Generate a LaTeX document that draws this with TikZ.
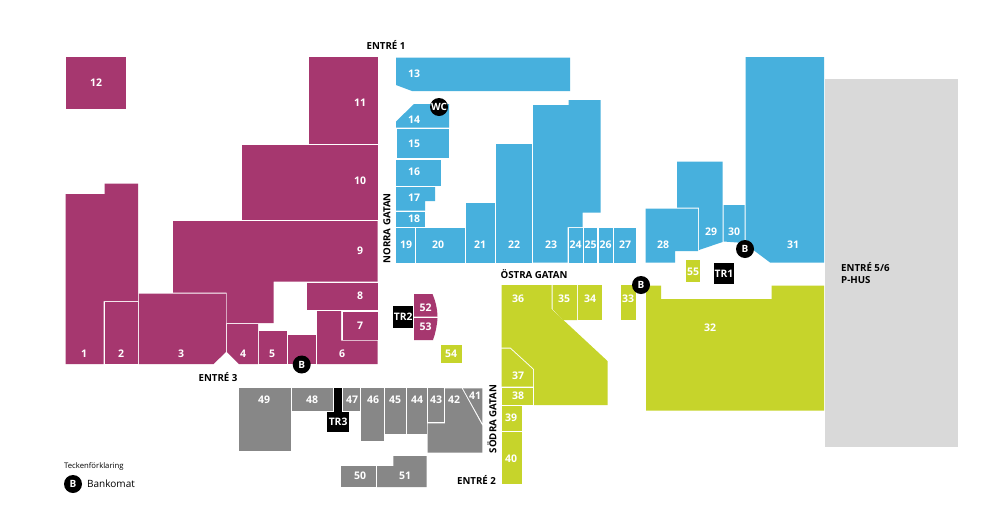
\documentclass[tikz,border=0pt]{standalone}
\usepackage{fontspec}
\setmainfont{Open Sans}
\definecolor{cpur}{HTML}{A6376F}
\definecolor{cblu}{HTML}{47B0DD}
\definecolor{clim}{HTML}{C6D42B}
\definecolor{cgry}{HTML}{878787}
\definecolor{clgt}{HTML}{D9D9D9}
\tikzset{
  pur/.style={fill=cpur},
  blu/.style={fill=cblu},
  lim/.style={fill=clim},
  gry/.style={fill=cgry},
  num/.style={text=white,font=\fontsize{10.5}{10.5}\selectfont\bfseries,inner sep=0pt},
  head/.style={text=black,font=\fontsize{9.7}{12.5}\selectfont\bfseries,inner sep=0pt},
  badge/.style={circle,fill=black,text=white,minimum size=18pt,inner sep=0pt,font=\fontsize{10}{10}\selectfont\bfseries},
  tr/.style={fill=black,text=white,inner sep=0pt,font=\fontsize{10.3}{10}\selectfont\bfseries,anchor=center},
}
\begin{document}
\begin{tikzpicture}[x=1pt,y=-1pt]
\useasboundingbox (0,0) rectangle (988,528);
\fill[white] (0,0) rectangle (988,528);
% P-hus
\fill[clgt] (825,79) rectangle (958,447);
% purple
\fill[pur] (66,57) rectangle (126,109);
\fill[pur] (309,57) rectangle (377.7,143.5);
\fill[pur] (242,145) rectangle (377.7,220);
\fill[pur] (173,221) -- (377.7,221) -- (377.7,281.5) -- (273.5,281.5) -- (273.5,323) -- (226.5,323) -- (226.5,292.5) -- (173,292.5) -- cycle;
\fill[pur] (65.5,194) -- (104.5,194) -- (104.5,183.5) -- (138,183.5) -- (138,301) -- (103.5,301) -- (103.5,364) -- (65.5,364) -- cycle;
\fill[pur] (104.5,302) rectangle (138,364);
\fill[pur] (138.8,293.5) -- (226,293.5) -- (226,352) -- (213.5,364) -- (138.8,364) -- cycle;
\fill[pur] (227,324) -- (258,324) -- (258,364) -- (239,364) -- (227,352) -- cycle;
\fill[pur] (259,331) rectangle (286.5,364);
\fill[pur] (287.5,335) rectangle (316,364);
\fill[pur] (317,311) -- (341,311) -- (341,340.5) -- (377.7,340.5) -- (377.7,364) -- (317,364) -- cycle;
\fill[pur] (342.5,311.5) rectangle (377.7,339.5);
\fill[pur] (307,283) rectangle (377.7,310);
\fill[pur] (414,294) -- (432.5,294) .. controls (435.5,301) and (437.5,309) .. (437.5,316.7) -- (414,316.7) -- cycle;
\fill[pur] (414,318) -- (437.5,318) .. controls (437,326) and (435.5,333) .. (433,340) -- (414,340) -- cycle;
% blue
\fill[blu] (396,57.5) -- (570,57.5) -- (570,91) -- (412,91) -- (396,85) -- cycle;
\fill[blu] (396,121.5) -- (414,104) -- (449,104) -- (449,127.7) -- (396,127.7) -- cycle;
\fill[blu] (396.5,129) rectangle (449,158);
\fill[blu] (396,159.5) rectangle (441,185.5);
\fill[blu] (396,187) -- (435,187) -- (435,201) -- (425,201) -- (425,210.5) -- (396,210.5) -- cycle;
\fill[blu] (396,212) rectangle (425,226.5);
\fill[blu] (396,228) rectangle (415,262.5);
\fill[blu] (416,228) rectangle (465,262.5);
\fill[blu] (465.7,203) rectangle (494.5,262.5);
\fill[blu] (495.5,144) rectangle (532,262.5);
\fill[blu] (533,105) -- (568.5,105) -- (568.5,100) -- (600.5,100) -- (600.5,212.5) -- (582.5,212.5) -- (582.5,227) -- (567.5,227) -- (567.5,262.5) -- (533,262.5) -- cycle;
\fill[blu] (568.5,228) rectangle (582.5,262.5);
\fill[blu] (583.5,228) rectangle (597,262.5);
\fill[blu] (598.5,228) rectangle (612.5,262.5);
\fill[blu] (613.5,228) rectangle (636,262.5);
\fill[blu] (645.5,208.5) -- (698,208.5) -- (698,251) -- (675,251) -- (675,262.5) -- (645.5,262.5) -- cycle;
\fill[blu] (677,161.5) -- (722.5,161.5) -- (722.5,242) -- (699,250) -- (699,207.5) -- (677,207.5) -- cycle;
\fill[blu] (723.5,205) -- (744.5,205) -- (744.5,243) -- (723.5,241.5) -- cycle;
\fill[blu] (745.5,57) -- (824,57) -- (824,262.5) -- (770,262.5) -- (752,249) -- (745.5,243) -- cycle;
% lime
\fill[lim] (501.5,285) -- (551.5,285) -- (551.5,309) -- (607.5,361) -- (607.5,405) -- (534,405) -- (534,369) -- (510.5,347.5) -- (501.5,347.5) -- cycle;
\fill[lim] (552.5,285) -- (577,285) -- (577,320) -- (563,320) -- (552.5,309) -- cycle;
\fill[lim] (578,285) rectangle (602,320);
\fill[lim] (621,285) rectangle (636,320);
\fill[lim] (501.5,348.5) -- (510,348.5) -- (533,369.5) -- (533,386.5) -- (501.5,386.5) -- cycle;
\fill[lim] (501.5,387.5) rectangle (533,404.5);
\fill[lim] (501.5,405.5) rectangle (521.5,431);
\fill[lim] (501.5,432) rectangle (521.5,483.5);
\fill[lim] (441,345) rectangle (461.7,362.7);
\fill[lim] (686,260) rectangle (700,281.5);
\fill[lim] (646,285.5) -- (661,285.5) -- (661,299) -- (771.5,299) -- (771.5,285.5) -- (824,285.5) -- (824,410.5) -- (646,410.5) -- cycle;
% grey
\fill[gry] (239,388.3) rectangle (290.7,450.7);
\fill[gry] (291.7,388.3) rectangle (332.7,410.7);
\fill[gry] (342.7,388.3) rectangle (360.3,410.7);
\fill[gry] (361.3,388.3) rectangle (384.3,441);
\fill[gry] (385.3,388.3) rectangle (406,434);
\fill[gry] (407,388.3) rectangle (426.7,434);
\fill[gry] (427.7,388.3) rectangle (444,422);
\fill[gry] (445,388.3) -- (461.7,388.3) -- (482.3,425.7) -- (482.3,452.7) -- (427.7,452.7) -- (427.7,423.3) -- (445,423.3) -- cycle;
\fill[gry] (462.9,388.3) -- (482.3,388.3) -- (482.3,423) -- cycle;
\fill[gry] (341,466) rectangle (376,487);
\fill[gry] (377,466) -- (393.3,466) -- (393.3,456) -- (426.7,456) -- (426.7,487) -- (377,487) -- cycle;
% stair towers
\fill[black] (334,388) rectangle (342,412);
\node[tr,minimum width=21.7pt,minimum height=20.6pt] (tr3) at (338.1,422) {TR3};
\node[tr,minimum width=20pt,minimum height=22pt] (tr2) at (403.3,317) {TR2};
\node[tr,minimum width=19.4pt,minimum height=20.7pt] (tr1) at (724,273.6) {TR1};
% numbers
\foreach \n/\px/\py in {1/84/354,2/121/354,3/181/354,4/243/354,5/272/354,6/342/354,7/360/326,8/360/296,9/360/251,10/360/181,11/360/103,12/96/83,
 13/414/74,14/414/120,15/414/144,16/414/172,17/414/198,18/414/219,19/406/245,20/438/245,21/480/245,22/514/245,23/551/245,24/575.5/245,25/590.5/245,26/605.5/245,27/625/245,28/663/245,29/711/232,30/734/232,31/793/245,
 32/710/328,33/628/299,34/590/299,35/564/299,36/518/299,37/518/376,38/518/396,39/511/418,40/511/459,41/475/396,42/454/400,43/436/400,44/417/400,45/395/400,46/373/400,47/352/400,48/312/400,49/264/400,50/360/476,51/405/476,52/425.5/308,53/425.5/327,54/451/354,55/693/272}{
  \node[num] (n\n) at (\px,\py) {\n};
}
% badges
\node[badge] (wc) at (439,107) {WC};
\node[badge] (b1) at (745,249) {B};
\node[badge] (b2) at (641,285) {B};
\node[badge] (b3) at (301.7,364.5) {B};
\node[badge] (b4) at (73,484) {B};
% headings
\node[head] (e1) at (386,45) {ENTRÉ 1};
\node[head] (e3) at (218,377) {ENTRÉ 3};
\node[head] (e2) at (476.5,480) {ENTRÉ 2};
\node[head] (eg) at (534,274) {ÖSTRA GATAN};
\node[head,rotate=90] (en) at (387,228.5) {NORRA GATAN};
\node[head,rotate=90] (es) at (492,419) {SÖDRA GATAN};
\node[head,anchor=north west,align=left] (e5) at (841,262) {ENTRÉ 5/6\\P-HUS};
% legend
\node[anchor=west,inner sep=0pt,font=\fontsize{7.7}{9}\selectfont] (lt) at (64,466) {Teckenförklaring};
\node[anchor=west,inner sep=0pt,font=\fontsize{10}{12}\selectfont] (lb) at (87,484) {Bankomat};
\end{tikzpicture}
\end{document}
